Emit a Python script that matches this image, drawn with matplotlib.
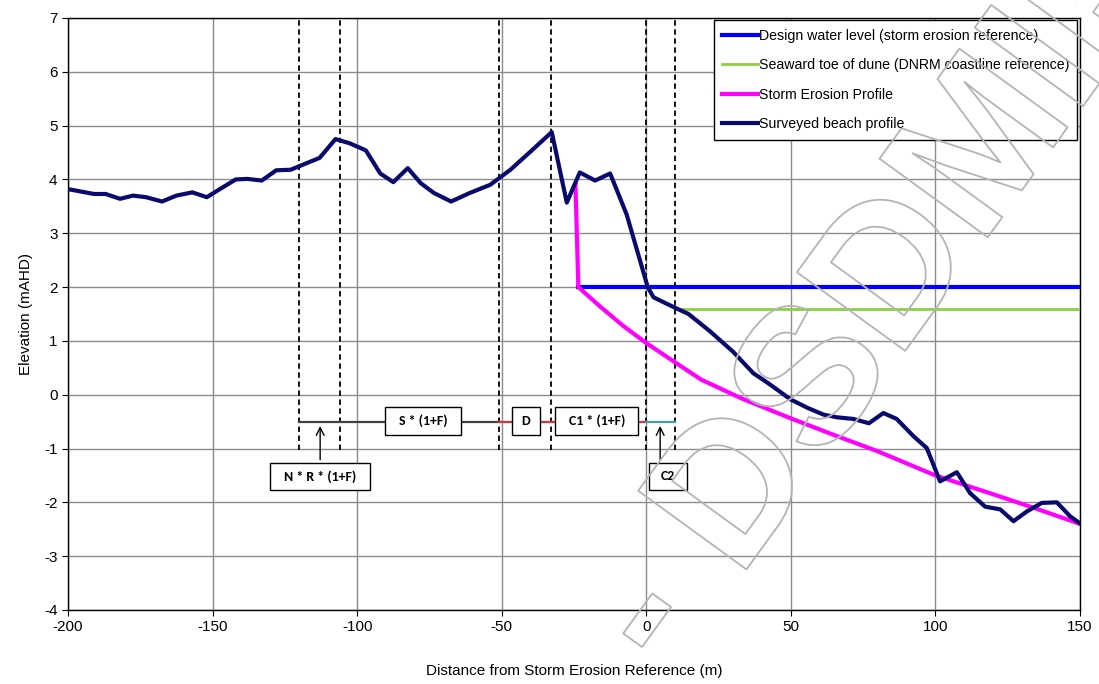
import numpy as np
import matplotlib.pyplot as plt
from matplotlib.patches import Rectangle
import matplotlib.patheffects as pe

plt.rcParams['font.family'] = ['Liberation Sans', 'DejaVu Sans']
plt.rcParams['axes.unicode_minus'] = False

# Surveyed beach profile (distance m, elevation mAHD)
survey_x = [-200, -191, -187, -182, -177.5, -173, -167.5, -162.5, -157, -152, -147.5, -142, -138, -133,
            -128, -123, -118.5, -113, -107.5, -102.5, -97, -92, -87.5, -82.5, -78, -73.5, -67.5, -61,
            -54, -47, -40, -32.7, -27.5, -23, -17.7, -12.5, -6.8, 0.5, 2.5, 9.4, 14.6, 22, 30, 37, 42,
            50, 56, 61.3, 66, 71.6, 77, 82, 86.6, 92.4, 97, 101.6, 107.4, 112, 117.2, 122.4, 127,
            131.6, 136.8, 142, 146.6, 150]
survey_y = [3.82, 3.73, 3.73, 3.64, 3.70, 3.67, 3.59, 3.70, 3.76, 3.67, 3.82, 4.00, 4.01, 3.98,
            4.17, 4.18, 4.28, 4.40, 4.75, 4.67, 4.54, 4.11, 3.95, 4.21, 3.93, 3.75, 3.59, 3.75,
            3.90, 4.18, 4.52, 4.88, 3.57, 4.13, 3.98, 4.11, 3.35, 2.0, 1.81, 1.63, 1.50, 1.18, 0.80,
            0.40, 0.22, -0.09, -0.25, -0.37, -0.42, -0.45, -0.53, -0.34, -0.45, -0.77, -0.99, -1.61,
            -1.44, -1.83, -2.08, -2.13, -2.35, -2.17, -2.01, -2.00, -2.26, -2.39]

# Storm erosion profile
storm_x = [-24.5, -23.5, -16, -8, 0, 10, 19, 33, 50, 65, 80, 100, 120, 135, 150]
storm_y = [3.9, 2.0, 1.64, 1.28, 0.96, 0.60, 0.28, -0.07, -0.44, -0.75, -1.05, -1.50, -1.85, -2.12, -2.40]

# Design water level and seaward toe of dune
dwl_x = [-23.5, 150]
dwl_y = [2.0, 2.0]
toe_x = [12.8, 150]
toe_y = [1.6, 1.6]

# Erosion component boundaries (dashed verticals)
bounds = [-120, -106, -51, -33, 0, 10]
bar_y = -0.5

# Annotation boxes: label, x0, x1, y0, y1
boxes = [("S * (1+F)", -90.3, -64.2, -0.74, -0.22),
         ("D", -46.5, -36.7, -0.74, -0.22),
         ("C1 * (1+F)", -31.5, -2.7, -0.74, -0.22),
         ("N * R * (1+F)", -130.1, -95.5, -1.77, -1.26),
         ("C2", 1.0, 14.0, -1.77, -1.26)]
arrows_x = [-112.8, 4.8]

fig = plt.figure(figsize=(10.99, 6.84), dpi=100)
ax = fig.add_axes([0.0619, 0.1082, 0.9208, 0.8655])

ax.set_xlim(-200, 150)
ax.set_ylim(-4, 7)
ax.set_xticks(np.arange(-200, 151, 50))
ax.set_yticks(np.arange(-4, 8, 1))
ax.grid(True, color='#8c8c8c', lw=1.0)
ax.set_axisbelow(True)
for s in ax.spines.values():
    s.set_color('black')
    s.set_linewidth(1.0)
ax.tick_params(direction='out', length=4, labelsize=11, colors='black')
ax.set_xlabel("Distance from Storm Erosion Reference (m)", fontsize=11, labelpad=21)
ax.set_ylabel("Elevation (mAHD)", fontsize=11, labelpad=8)

# dashed boundaries
for b in bounds:
    ax.plot([b, b], [-1.02, 7], color='black', ls=(0, (3, 2)), lw=1.3, zorder=2)

# component bar
ax.plot([bounds[0], bounds[2]], [bar_y, bar_y], color='#404040', lw=1.6, zorder=2)
ax.plot([bounds[2], bounds[4]], [bar_y, bar_y], color='#e0303a', lw=1.6, zorder=2)
ax.plot([bounds[4], bounds[5]], [bar_y, bar_y], color='#3aa0a8', lw=1.6, zorder=2)

for label, x0, x1, y0, y1 in boxes:
    ax.add_patch(Rectangle((x0, y0), x1 - x0, y1 - y0, facecolor='white',
                           edgecolor='black', lw=1.0, zorder=3))
    ax.text((x0 + x1) / 2, (y0 + y1) / 2, label, ha='center', va='center',
            fontsize=10, fontweight='bold', family=['Carlito', 'Liberation Sans', 'DejaVu Sans'],
            zorder=4)

for xa in arrows_x:
    ax.annotate('', xy=(xa, bar_y - 0.03), xytext=(xa, -1.26),
                arrowprops=dict(arrowstyle='->', color='black', lw=1.0, mutation_scale=14),
                zorder=4)

ax.plot(dwl_x, dwl_y, color='#0000ff', lw=3, label='Design water level (storm erosion reference)', zorder=5)
ax.plot(toe_x, toe_y, color='#8cd040', lw=2, label='Seaward toe of dune (DNRM coastline reference)', zorder=5)
ax.plot(storm_x, storm_y, color='#ff00ff', lw=3, label='Storm Erosion Profile', zorder=5)
ax.plot(survey_x, survey_y, color='#0a0a6e', lw=3, label='Surveyed beach profile', zorder=6)

leg = ax.legend(loc='upper right', bbox_to_anchor=(0.9975, 0.9965), fontsize=10.2,
                frameon=True, fancybox=False, framealpha=1, edgecolor='black',
                handlelength=2.5, handletextpad=0.05, labelspacing=1.1, borderpad=0.6,
                borderaxespad=0.0)
leg.get_frame().set_linewidth(1.0)
leg.set_zorder(10)

# watermark
fig.text(0.6087, 0.0117, "- DSDMIP", rotation=54, rotation_mode='anchor', ha='left', va='baseline',
         fontsize=140, fontweight='bold', color='none',
         path_effects=[pe.withStroke(linewidth=1.3, foreground='#b4b4b4')], zorder=20)

fig.savefig('out.png', dpi=100)
